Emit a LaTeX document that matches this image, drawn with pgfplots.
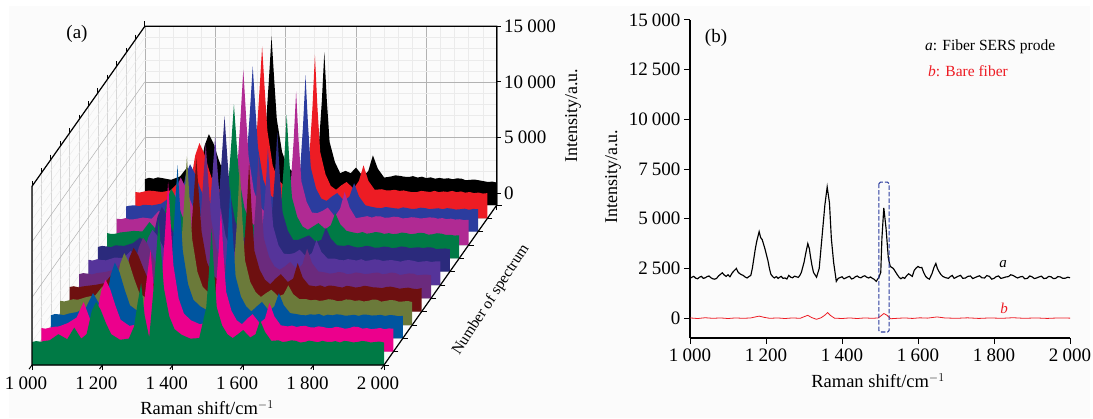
\documentclass[border=0pt]{standalone}
\usepackage{fontspec}
\setmainfont{Liberation Serif}
\usepackage{pgfplots}
\usepackage{pgfplotstable}
\pgfplotsset{compat=1.18}
\definecolor{cgreen}{HTML}{007A45}
\definecolor{cpink}{HTML}{EC008C}
\definecolor{cblue}{HTML}{00559F}
\definecolor{colive}{HTML}{6B7A3A}
\definecolor{cdkred}{HTML}{6E1010}
\definecolor{cplum}{HTML}{6B2A7D}
\definecolor{cindigo}{HTML}{55349A}
\definecolor{cnavy}{HTML}{2B2A7C}
\definecolor{cmag}{HTML}{B02A93}
\definecolor{cblueb}{HTML}{2B3C9E}
\definecolor{cred}{HTML}{ED1C24}
\pgfplotstableread{
x s0 s1 s2 s3 s4 s5 s6 s7 s8 s9 s10 s11 s12
1000 -1070 -1070 -1070 -1070 -1070 -1070 -1070 -1070 -1070 -1070 -1070 -1070 -1070
1000 1000 1050 1000 1100 1150 1100 1200 1150 1200 1300 1200 1300 1250
1012 1080 1000 1120 1050 1220 1200 1130 1250 1120 1250 1280 1250 1380
1025 1020 1100 1080 1150 1120 1150 1250 1200 1150 1350 1300 1350 1300
1037 1100 1170 1020 1250 1200 1080 1180 1130 1260 1230 1220 1430 1420
1050 1150 1200 1150 1200 1250 1200 1150 1300 1300 1250 1350 1400 1350
1075 1700 1500 1300 1450 1350 1300 1400 1250 1400 1400 1300 1300 1200
1100 1250 2000 1700 1600 1500 1500 1350 1500 1350 1300 1450 1450 1500
1120 2300 3400 3000 2400 2300 2100 2000 2000 2200 2000 1900 2100 2300
1140 1300 1700 1900 1700 1600 1500 1500 1500 1500 1500 1450 1500 1400
1155 1700 1900 1800 1800 1700 1600 1500 1700 1800 1750 1700 1800 1700
1170 3800 4400 4600 4400 3800 3500 3200 3900 4200 4100 4100 4600 4300
1182 4600 5400 5750 5400 4670 4400 3900 4760 5200 5000 5000 5700 5300
1195 3900 4600 4900 4600 4000 3800 3400 4100 4400 4200 4200 4800 4500
1210 2700 3100 3300 3100 2800 2700 2500 2800 3000 2900 2900 3200 3000
1225 1700 1800 1900 1800 1700 1650 1600 1700 1750 1700 1750 1800 1750
1250 1200 1250 1300 1200 1250 1200 1300 1250 1200 1300 1250 1350 1300
1275 1300 1400 1450 1350 1400 1400 1450 1350 1400 1450 1400 1500 1450
1290 2400 2900 2700 2600 2800 2700 2800 2600 2600 2800 2600 2600 2600
1300 4500 5700 5300 5000 5300 5300 5300 5000 5100 5300 5000 5000 5000
1310 6300 8100 7500 7000 7500 7500 7500 7000 7200 7500 7000 7000 7000
1320 3400 4250 4000 3750 4000 4000 4000 3750 3850 4000 3750 3750 3750
1333 1400 1700 2000 2200 2000 1900 2000 1900 2000 2300 2200 2300 2200
1345 5700 6600 6700 6550 6000 6000 5800 6050 6000 6800 6450 6700 6550
1352 8500 10000 10200 9900 9000 9100 8700 9100 9050 10350 9700 10150 9900
1360 12000 14200 14500 14100 12750 12850 12300 12900 12800 14700 13800 14400 14100
1368 8600 10100 10300 10000 9100 9200 8800 9200 9150 10400 9800 10200 10000
1375 5800 6700 6800 6650 6100 6100 5900 6150 6100 6900 6500 6800 6650
1390 3300 3700 3800 3700 3400 3450 3300 3500 3450 3800 3600 3700 3700
1405 2150 2350 2400 2350 2250 2250 2200 2300 2250 2450 2350 2400 2400
1425 1650 1750 1800 1750 1700 1700 1650 1750 1700 1800 1800 1800 1750
1450 1300 1400 1350 1450 1350 1450 1400 1350 1500 1400 1450 1450 1350
1475 1350 1550 1450 1600 1550 1500 1550 1600 1550 1650 1600 1700 1600
1495 4100 4300 4500 4750 4450 4350 4150 4200 4300 4600 4650 4850 4550
1503 7400 7700 8200 8650 8050 7850 7400 7550 7800 8300 8500 8900 8300
1510 11200 11800 12500 13300 12300 11950 11300 11500 11860 12750 13000 13650 12670
1517 7500 7800 8300 8700 8100 7900 7500 7650 7900 8400 8600 9000 8400
1525 4100 4300 4500 4750 4400 4350 4200 4250 4400 4650 4700 4900 4600
1540 2500 2600 2700 2800 2700 2650 2500 2600 2650 2800 2800 2900 2800
1555 1700 1750 1800 1900 1800 1800 1750 1800 1800 1850 1900 1850 1800
1570 1350 1400 1350 1450 1400 1500 1700 1800 1500 1800 1700 1500 2000
1585 1700 1900 1800 1800 1900 1800 1800 2000 1800 2000 2100 1900 1800
1600 2070 2300 2200 2100 2300 2200 2100 2200 2100 2300 2400 2200 2300
1620 1400 1500 1400 1500 1600 1500 1450 1600 1550 1500 1700 1600 1500
1635 1700 1900 1800 1700 1900 2000 1800 1800 1900 2200 2100 2300 2000
1648 2960 3300 3000 2500 3300 3400 2970 2900 3000 3700 3300 3700 3400
1662 1900 2100 1900 1700 2000 2100 1900 1900 2000 2300 2100 2300 2200
1680 1100 1300 1200 1250 1300 1350 1300 1300 1400 1350 1300 1500 1400
1700 1150 1200 1100 1250 1200 1250 1300 1250 1250 1450 1150 1550 1500
1712 1000 1280 1020 1150 1300 1150 1200 1330 1180 1530 1080 1450 1600
1725 1050 1150 1000 1200 1150 1200 1150 1200 1300 1400 1050 1450 1550
1737 1150 1230 1090 1100 1280 1300 1260 1100 1150 1520 1150 1500 1480
1750 1100 1250 1050 1150 1250 1250 1200 1150 1200 1500 1100 1400 1450
1762 950 1130 1120 1250 1170 1100 1130 1260 1300 1380 1040 1440 1530
1775 1000 1100 950 1200 1100 1150 1250 1200 1250 1400 1000 1350 1400
1787 1120 1210 1060 1080 1250 1260 1100 1080 1130 1480 1120 1280 1480
1800 1050 1150 1000 1100 1200 1200 1150 1100 1200 1450 1050 1300 1350
1812 980 1060 1090 1230 1100 1110 1240 1190 1110 1330 970 1400 1420
1825 1100 1050 1050 1200 1150 1150 1200 1150 1150 1350 1000 1350 1300
1837 1020 1170 960 1100 1260 1220 1090 1040 1250 1430 1090 1300 1370
1850 1000 1100 1000 1150 1200 1250 1150 1100 1200 1400 1050 1400 1300
1862 1080 990 1050 1050 1120 1090 1170 1200 1100 1320 960 1290 1340
1875 950 1050 950 1100 1100 1150 1100 1150 1150 1350 1000 1350 1250
1887 1100 1180 1060 1210 1050 1250 1030 1050 1230 1410 1040 1310 1330
1900 1050 1150 1050 1200 1150 1200 1150 1100 1200 1400 950 1400 1300
1912 960 1000 980 1030 1180 1030 1170 1120 1060 1300 1050 1290 1160
1925 1000 1050 1000 1100 1100 1100 1100 1050 1100 1350 1000 1350 1200
1937 1090 960 1040 1170 1000 1170 990 1130 1190 1260 920 1240 1220
1950 1050 1000 950 1150 1050 1150 1050 1100 1150 1300 950 1300 1150
1962 950 1060 1020 1020 1090 1000 1080 960 1040 1220 1000 1200 1080
1975 1000 950 1000 1050 1000 1050 1000 1000 1050 1250 900 1250 1000
1987 1040 1020 920 1090 960 1070 1060 1020 980 1170 980 1160 1040
2000 950 1000 950 1000 1050 1000 1050 950 1000 1200 950 1200 950
2000 -1070 -1070 -1070 -1070 -1070 -1070 -1070 -1070 -1070 -1070 -1070 -1070 -1070
}\ribbons
\pgfplotsset{ribbon/.style={fill=#1,draw=none,mark=none,forget plot}}
\begin{document}
\begin{tikzpicture}[x=1pt,y=1pt]
\path[use as bounding box] (0,0) rectangle (1093,418);
\fill[black!1.5] (9,0) rectangle (1090,412);
\begin{axis}[
  at={(32pt,53pt)},anchor=south west,
  x={(0.352pt,0pt)},y={(9.4pt,13.33pt)},z={(0pt,0.01113pt)},
  xmin=1000,xmax=2000,ymin=0,ymax=12,zmin=-1070,zmax=15000,
  xtick={1000,1200,...,2000},ytick={0,...,12},ztick={0,5000,10000,15000},
  yticklabel=\empty,
  minor x tick num=4,minor z tick num=4,minor tick length=0pt,
  xmajorgrids,ymajorgrids,zmajorgrids,xminorgrids,zminorgrids,
  major x grid style={black!30,line width=.5pt},
  major y grid style={black!16,line width=.5pt},
  major z grid style={black!30,line width=.5pt},
  minor x grid style={black!8,line width=.4pt},
  minor z grid style={black!8,line width=.4pt},
  scaled x ticks=false,scaled z ticks=false,
  /pgf/number format/assume math mode=true,
  /pgf/number format/1000 sep={\hspace{.22em}},
  tick style={black,line width=1pt},major tick length=5pt,tick align=outside,
  z tick style={draw=none},
  tick label style={font=\fontsize{19}{19}\selectfont},
  x tick label style={yshift=-4pt},
  z tick label style={anchor=west,xshift=1pt,yshift=-4pt},
  axis line style={draw=none},
  xtick pos=left,ytick pos=right,ztick pos=right,
  zticklabel pos=right,
  clip=false,
]
\addplot3[ribbon=black] table[x=x,y expr=12,z=s12]{\ribbons};
\addplot3[ribbon=cred] table[x=x,y expr=11,z=s11]{\ribbons};
\addplot3[ribbon=cblueb] table[x=x,y expr=10,z=s10]{\ribbons};
\addplot3[ribbon=cmag] table[x=x,y expr=9,z=s9]{\ribbons};
\addplot3[ribbon=cgreen] table[x=x,y expr=8,z=s8]{\ribbons};
\addplot3[ribbon=cnavy] table[x=x,y expr=7,z=s7]{\ribbons};
\addplot3[ribbon=cindigo] table[x=x,y expr=6,z=s6]{\ribbons};
\addplot3[ribbon=cplum] table[x=x,y expr=5,z=s5]{\ribbons};
\addplot3[ribbon=cdkred] table[x=x,y expr=4,z=s4]{\ribbons};
\addplot3[ribbon=colive] table[x=x,y expr=3,z=s3]{\ribbons};
\addplot3[ribbon=cblue] table[x=x,y expr=2,z=s2]{\ribbons};
\addplot3[ribbon=cpink] table[x=x,y expr=1,z=s1]{\ribbons};
\addplot3[ribbon=cgreen] table[x=x,y expr=0,z=s0]{\ribbons};
\draw[black,line width=1.2pt,line join=miter]
  (axis cs:1000,0,15000) -- (axis cs:1000,12,15000) -- (axis cs:2000,12,15000) -- (axis cs:2000,12,-1070) -- (axis cs:2000,0,-1070) -- (axis cs:1000,0,-1070) -- cycle;
\draw[black,line width=1pt] (axis cs:2000,12,15000) -- ++(4.5pt,0pt);
\draw[black,line width=1pt] (axis cs:2000,12,10000) -- ++(4.5pt,0pt);
\draw[black,line width=1pt] (axis cs:2000,12,5000) -- ++(4.5pt,0pt);
\draw[black,line width=1pt] (axis cs:2000,12,0) -- ++(4.5pt,0pt);
\end{axis}
\begin{axis}[
  at={(690pt,80pt)},anchor=south west,scale only axis,width=380pt,height=318pt,
  xmin=1000,xmax=2000,ymin=-1000,ymax=15000,
  axis lines=left,axis line style={-,black,line width=1.2pt},
  xtick={1000,1200,...,2000},ytick={0,2500,...,15000},
  scaled x ticks=false,scaled y ticks=false,
  /pgf/number format/assume math mode=true,
  /pgf/number format/1000 sep={\hspace{.22em}},
  tick style={black,line width=1pt},major tick length=6pt,tick align=outside,
  tick label style={font=\fontsize{19}{19}\selectfont},
  x tick label style={yshift=-1pt},
  clip=false,
]
\addplot[black,line width=1.15pt,mark=none] coordinates {
(1000,2000)(1005,2060)(1010,2100)(1015,2010)(1020,1980)(1025,2060)(1030,2100)(1035,2000)(1040,2030)(1045,2090)(1050,2120)(1055,2030)(1060,1980)(1065,1960)(1070,2000)(1075,2120)(1080,2200)(1085,2280)(1090,2170)(1095,2100)(1100,2180)(1105,2080)(1112,2300)(1122,2500)(1126,2330)(1130,2250)(1135,2190)(1140,2150)(1145,2070)(1150,2020)(1155,2090)(1160,2150)(1164,2500)(1168,3000)(1172,3500)(1176,3900)(1182,4350)(1186,4050)(1190,3950)(1197,3500)(1201,3200)(1205,2900)(1209,2500)(1213,2200)(1218,2080)(1222,2020)(1227,2090)(1232,2000)(1236,2060)(1240,2100)(1245,2000)(1250,2020)(1255,1970)(1260,2150)(1265,2060)(1270,2030)(1275,2110)(1280,2080)(1285,2050)(1289,2150)(1293,2300)(1300,2800)(1305,3300)(1310,3750)(1314,3500)(1317,3100)(1321,2650)(1325,2300)(1333,2060)(1340,2500)(1347,4000)(1355,5700)(1361,6600)(1367,5800)(1372,4000)(1378,2800)(1385,1850)(1390,2000)(1395,2040)(1400,2080)(1405,1980)(1410,2020)(1415,2070)(1420,2100)(1425,1970)(1430,2000)(1435,2080)(1440,2120)(1445,2050)(1450,2030)(1455,2100)(1460,2130)(1465,2060)(1470,2020)(1475,2070)(1480,2000)(1485,1950)(1490,1850)(1497,2050)(1502,2300)(1505,4000)(1510,5550)(1516,4500)(1522,3000)(1527,2600)(1531,2550)(1535,2500)(1540,2350)(1545,2200)(1550,2060)(1555,1980)(1560,2050)(1565,2000)(1570,2130)(1575,2230)(1580,2170)(1585,2100)(1590,2400)(1595,2520)(1600,2600)(1605,2540)(1610,2550)(1615,2290)(1620,2100)(1625,2010)(1630,1960)(1637,2250)(1642,2550)(1647,2750)(1651,2500)(1655,2350)(1660,2200)(1665,2100)(1672,2040)(1680,2000)(1685,2090)(1690,2150)(1695,2000)(1700,2050)(1706,2110)(1712,2150)(1718,2000)(1725,2020)(1731,2100)(1738,2120)(1744,1990)(1750,2040)(1756,2090)(1762,2130)(1768,2030)(1775,2020)(1781,2140)(1788,2100)(1794,1960)(1800,2000)(1806,2090)(1812,2120)(1818,2000)(1825,2030)(1831,2070)(1838,2090)(1844,2180)(1850,2150)(1856,2080)(1862,2020)(1868,2070)(1875,2100)(1881,1980)(1888,2000)(1894,2120)(1900,2080)(1906,1990)(1912,2020)(1918,2070)(1925,2110)(1931,1990)(1938,2010)(1944,2100)(1950,2080)(1956,1990)(1962,2000)(1968,2090)(1975,2070)(1981,2000)(1988,2010)(1994,2060)(2000,2030)};
\addplot[cred,line width=.8pt,mark=none] coordinates {
(1000,10)(1020,-20)(1040,20)(1060,-10)(1080,10)(1100,-20)(1120,10)(1140,-10)(1160,10)(1172,60)(1182,100)(1195,40)(1210,-10)(1230,10)(1250,-20)(1270,10)(1290,-10)(1300,70)(1310,140)(1320,30)(1333,-60)(1345,20)(1355,150)(1362,280)(1370,130)(1380,0)(1400,-20)(1420,10)(1440,-20)(1460,10)(1480,-10)(1495,10)(1503,120)(1510,230)(1518,150)(1528,-30)(1545,-10)(1565,10)(1585,-15)(1605,15)(1625,0)(1650,60)(1670,10)(1700,-10)(1730,15)(1760,-15)(1790,10)(1820,-10)(1850,20)(1880,-10)(1910,10)(1940,-15)(1970,10)(2000,0)};
\draw[cblueb,line width=1.1pt,dash pattern=on 4.5pt off 2pt,rounded corners=1.5pt] (axis cs:1497,6840) rectangle (axis cs:1524,-700);
\end{axis}
\node[font=\fontsize{19}{19}\selectfont] at (77,384) {(a)};
\node[font=\fontsize{19}{19}\selectfont] at (716,380) {(b)};
\node[font=\fontsize{18.5}{18.5}\selectfont] at (207,10) {Raman shift/cm$^{-1}$};
\node[font=\fontsize{18.5}{18.5}\selectfont] at (878,37) {Raman shift/cm$^{-1}$};
\node[font=\fontsize{18}{18}\selectfont,rotate=90] at (573,302) {Intensity/a.u.};
\node[font=\fontsize{18}{18}\selectfont,rotate=90] at (613,241) {Intensity/a.u.};
\node[font=\fontsize{15.5}{15.5}\selectfont,rotate=57] at (491,118) {Number of spectrum};
\node[font=\fontsize{15.5}{15.5}\selectfont,anchor=west,inner sep=0pt] at (925,371) {\textit{a}: Fiber SERS prode};
\node[font=\fontsize{15.5}{15.5}\selectfont,anchor=west,inner sep=0pt,text=cred] at (928,347) {\textit{b}: Bare fiber};
\node[font=\fontsize{15}{15}\selectfont\itshape] at (1003,154) {a};
\node[font=\fontsize{15}{15}\selectfont\itshape,text=cred] at (1004,110) {b};
\end{tikzpicture}
\end{document}
